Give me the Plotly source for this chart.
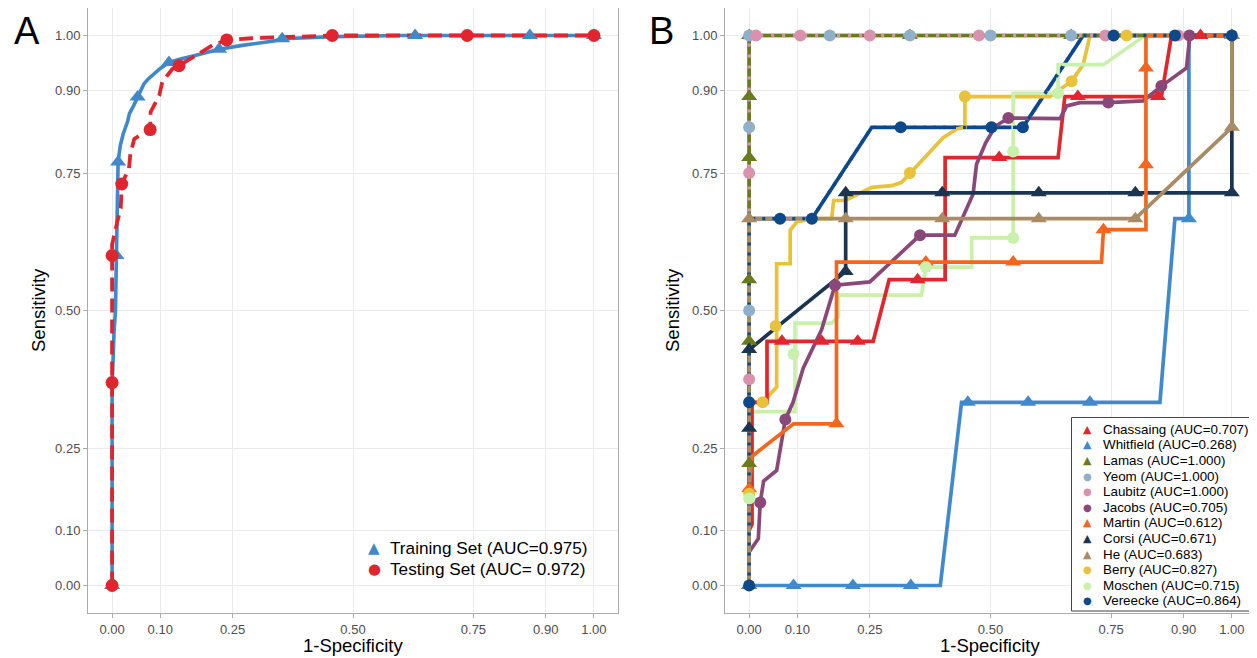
import plotly.graph_objects as go

# ---------------- data ----------------
TICK_VALS = [0.0, 0.10, 0.25, 0.50, 0.75, 0.90, 1.00]
TICK_TEXT = ["0.00", "0.10", "0.25", "0.50", "0.75", "0.90", "1.00"]

# Panel A
train_x = [0, 0, 0.004, 0.007, 0.009, 0.010, 0.0125, 0.017, 0.023, 0.032, 0.036, 0.045, 0.053, 0.060,
           0.066, 0.075, 0.090, 0.100, 0.118, 0.140, 0.170, 0.200, 0.222, 0.270, 0.336, 0.353, 0.460, 0.600, 1.0]
train_y = [0, 0.36, 0.46, 0.50, 0.60, 0.70, 0.77, 0.80, 0.821, 0.843, 0.858, 0.873, 0.888, 0.900,
           0.912, 0.921, 0.933, 0.940, 0.951, 0.957, 0.963, 0.970, 0.975, 0.982, 0.990, 0.994, 0.998, 1.0, 1.0]
train_mx = [0, 0.009, 0.0125, 0.053, 0.118, 0.222, 0.353, 0.629, 0.867, 1.0]
train_my = [0, 0.60, 0.77, 0.888, 0.951, 0.975, 0.994, 1.0, 1.0, 1.0]

test_x = [0, 0, 0, 0, 0.011, 0.018, 0.020, 0.035, 0.038, 0.046, 0.063, 0.079, 0.080, 0.098, 0.104,
          0.125, 0.139, 0.173, 0.208, 0.238, 0.290, 0.457, 1.0]
test_y = [0, 0.369, 0.600, 0.620, 0.662, 0.686, 0.730, 0.758, 0.785, 0.812, 0.821, 0.829, 0.861, 0.891, 0.915,
          0.939, 0.945, 0.964, 0.982, 0.992, 0.995, 1.0, 1.0]
test_mx = [0, 0, 0, 0.020, 0.079, 0.139, 0.238, 0.457, 0.737, 1.0]
test_my = [0, 0.369, 0.600, 0.730, 0.829, 0.945, 0.992, 1.0, 1.0, 1.0]

train_label = "Training Set (AUC=0.975)"
test_label = "Testing Set (AUC= 0.972)"

# Panel B
chassaing_x = [0, 0, 0.006, 0.006, 0.037, 0.037, 0.257, 0.290, 0.406, 0.406, 0.640, 0.654, 0.854, 0.875, 1.0]
chassaing_y = [0, 0.100, 0.111, 0.333, 0.333, 0.444, 0.444, 0.556, 0.556, 0.778, 0.778, 0.889, 0.889, 1.0, 1.0]
chassaing_mx = [0.068, 0.150, 0.225, 0.349, 0.518, 0.681, 0.847, 0.935]
chassaing_my = [0.444, 0.444, 0.444, 0.556, 0.778, 0.889, 0.889, 1.0]

whitfield_x = [0, 0.396, 0.440, 0.851, 0.882, 0.911, 0.911, 1.0]
whitfield_y = [0, 0, 0.333, 0.333, 0.667, 0.667, 1.0, 1.0]
whitfield_mx = [0, 0.092, 0.215, 0.335, 0.453, 0.578, 0.706, 0.911, 1.0]
whitfield_my = [0, 0, 0, 0, 0.333, 0.333, 0.333, 0.667, 1.0]

lamas_x = [0, 0, 1.0]
lamas_y = [0, 1.0, 1.0]
lamas_mx = [0, 0, 0, 0, 0, 0, 0, 0.333, 0.667, 1.0]
lamas_my = [0, 0.222, 0.444, 0.556, 0.778, 0.889, 1.0, 1.0, 1.0, 1.0]

yeom_x = [0, 0, 1.0]
yeom_y = [0, 1.0, 1.0]
yeom_mx = [0, 0, 0, 0.167, 0.333, 0.500, 0.667]
yeom_my = [0.500, 0.833, 1.0, 1.0, 1.0, 1.0, 1.0]

laubitz_x = [0, 0, 1.0]
laubitz_y = [0, 1.0, 1.0]
laubitz_mx = [0, 0, 0.014, 0.106, 0.250, 0.476, 0.738, 0.889]
laubitz_my = [0.375, 0.750, 1.0, 1.0, 1.0, 1.0, 1.0, 1.0]

jacobs_x = [0, 0, 0.019, 0.023, 0.030, 0.057, 0.075, 0.091, 0.112, 0.150, 0.178, 0.219, 0.250, 0.354, 0.426,
            0.464, 0.471, 0.490, 0.510, 0.537, 0.644, 0.658, 0.685, 0.744, 0.816, 0.854, 0.906, 0.913, 1.0]
jacobs_y = [0, 0.061, 0.085, 0.151, 0.190, 0.209, 0.302, 0.333, 0.395, 0.465, 0.546, 0.549, 0.552, 0.637, 0.637,
            0.712, 0.766, 0.805, 0.835, 0.850, 0.849, 0.872, 0.878, 0.878, 0.881, 0.908, 0.941, 1.0, 1.0]
jacobs_mx = [0.023, 0.075, 0.178, 0.354, 0.537, 0.744, 0.854, 0.912]
jacobs_my = [0.151, 0.302, 0.546, 0.637, 0.850, 0.878, 0.908, 1.0]

martin_x = [0, 0, 0.006, 0.092, 0.181, 0.181, 0.730, 0.734, 0.822, 0.822, 1.0]
martin_y = [0, 0.176, 0.235, 0.294, 0.294, 0.588, 0.588, 0.647, 0.647, 1.0, 1.0]
martin_mx = [0, 0.181, 0.366, 0.547, 0.734, 0.822, 0.822]
martin_my = [0.176, 0.294, 0.588, 0.588, 0.647, 0.765, 0.941]

corsi_x = [0, 0, 0.200, 0.200, 1.0, 1.0]
corsi_y = [0, 0.429, 0.571, 0.714, 0.714, 1.0]
corsi_mx = [0, 0, 0.200, 0.200, 0.400, 0.600, 0.800, 1.0]
corsi_my = [0.286, 0.429, 0.571, 0.714, 0.714, 0.714, 0.714, 0.714]

he_x = [0, 0, 0.800, 1.0, 1.0]
he_y = [0, 0.667, 0.667, 0.833, 1.0]
he_mx = [0, 0.200, 0.400, 0.600, 0.800, 1.0, 1.0]
he_my = [0.667, 0.667, 0.667, 0.667, 0.667, 0.833, 1.0]

berry_x = [0, 0, 0.028, 0.057, 0.057, 0.085, 0.085, 0.099, 0.130, 0.171, 0.175, 0.199, 0.254, 0.295, 0.316,
           0.333, 0.357, 0.402, 0.430, 0.447, 0.447, 0.623, 0.668, 0.692, 0.706, 1.0]
berry_y = [0, 0.333, 0.333, 0.361, 0.585, 0.585, 0.646, 0.661, 0.667, 0.667, 0.700, 0.700, 0.724, 0.727, 0.733,
           0.750, 0.772, 0.814, 0.830, 0.833, 0.889, 0.889, 0.917, 0.947, 1.0, 1.0]
berry_mx = [0, 0.028, 0.055, 0.333, 0.447, 0.668, 0.782]
berry_my = [0.167, 0.333, 0.472, 0.750, 0.889, 0.917, 1.0]

moschen_x = [0, 0, 0.095, 0.095, 0.171, 0.185, 0.185, 0.357, 0.366, 0.461, 0.461, 0.547, 0.547, 0.640, 0.640,
             0.734, 0.820, 1.0]
moschen_y = [0, 0.316, 0.316, 0.477, 0.477, 0.489, 0.528, 0.528, 0.579, 0.579, 0.632, 0.632, 0.895, 0.895, 0.947,
             0.947, 1.0, 1.0]
moschen_mx = [0, 0.092, 0.366, 0.547, 0.547, 0.640]
moschen_my = [0.158, 0.421, 0.579, 0.632, 0.789, 0.895]

vereecke_x = [0, 0, 0.130, 0.254, 0.567, 0.692, 1.0]
vereecke_y = [0, 0.667, 0.667, 0.833, 0.833, 1.0, 1.0]
vereecke_mx = [0, 0, 0.064, 0.130, 0.314, 0.502, 0.567, 0.755, 0.882, 1.0]
vereecke_my = [0, 0.333, 0.667, 0.667, 0.833, 0.833, 0.833, 1.0, 1.0, 1.0]

studies = ["Chassaing", "Whitfield", "Lamas", "Yeom", "Laubitz", "Jacobs",
           "Martin", "Corsi", "He", "Berry", "Moschen", "Vereecke"]
study_auc = ["0.707", "0.268", "1.000", "1.000", "1.000", "0.705",
             "0.612", "0.671", "0.683", "0.827", "0.715", "0.864"]

# ---------------- styles ----------------
COLORS = {
    "Chassaing": "#E2262D", "Whitfield": "#4189CF", "Lamas": "#6B7A1D", "Yeom": "#8EB0CA",
    "Laubitz": "#D991AD", "Jacobs": "#8A4878", "Martin": "#F4661B", "Corsi": "#1B3550",
    "He": "#A88C66", "Berry": "#E8C23A", "Moschen": "#C9F1AC", "Vereecke": "#0C488A",
}
SYMBOLS = {
    "Chassaing": "triangle-up", "Whitfield": "triangle-up", "Lamas": "triangle-up", "Yeom": "circle",
    "Laubitz": "circle", "Jacobs": "circle", "Martin": "triangle-up", "Corsi": "triangle-up",
    "He": "triangle-up", "Berry": "circle", "Moschen": "circle", "Vereecke": "circle",
}
SERIES = {
    "Chassaing": (chassaing_x, chassaing_y, chassaing_mx, chassaing_my),
    "Whitfield": (whitfield_x, whitfield_y, whitfield_mx, whitfield_my),
    "Lamas": (lamas_x, lamas_y, lamas_mx, lamas_my),
    "Yeom": (yeom_x, yeom_y, yeom_mx, yeom_my),
    "Laubitz": (laubitz_x, laubitz_y, laubitz_mx, laubitz_my),
    "Jacobs": (jacobs_x, jacobs_y, jacobs_mx, jacobs_my),
    "Martin": (martin_x, martin_y, martin_mx, martin_my),
    "Corsi": (corsi_x, corsi_y, corsi_mx, corsi_my),
    "He": (he_x, he_y, he_mx, he_my),
    "Berry": (berry_x, berry_y, berry_mx, berry_my),
    "Moschen": (moschen_x, moschen_y, moschen_mx, moschen_my),
    "Vereecke": (vereecke_x, vereecke_y, vereecke_mx, vereecke_my),
}

BLUE_A = "#3F88C9"
RED_A = "#E0252F"
FONT = "Liberation Sans, Arial, Helvetica, sans-serif"
GLYPH_FONT = "DejaVu Sans, sans-serif"

# the page places the figure 8px from the top-left corner of the window
OFF = 8
W, H = 1257 - OFF, 658 - OFF
ML, MR, MT, MB = 80, 1, 0, 37
PW = W - ML - MR
PH = H - MT - MB


def pxx(px):
    """reference pixel x -> paper x"""
    return (px - OFF - ML) / PW


def pxy(py):
    """reference pixel y -> paper y"""
    return (H - MB - (py - OFF)) / PH


def clamp(v):
    return max(0.0, min(1.0, v))


fig = go.Figure()

# ---- Panel A ----
fig.add_trace(go.Scatter(x=train_x, y=train_y, mode="lines", line=dict(color=BLUE_A, width=3.6),
                         xaxis="x", yaxis="y", showlegend=False, hoverinfo="skip"))
fig.add_trace(go.Scatter(x=test_x, y=test_y, mode="lines",
                         line=dict(color=RED_A, width=3.8, dash="14px,7px"),
                         xaxis="x", yaxis="y", showlegend=False, hoverinfo="skip"))
fig.add_trace(go.Scatter(x=train_mx, y=train_my, mode="markers", name=train_label,
                         marker=dict(symbol="triangle-up", size=14, color=BLUE_A),
                         xaxis="x", yaxis="y", showlegend=False))
fig.add_trace(go.Scatter(x=test_mx, y=test_my, mode="markers", name=test_label,
                         marker=dict(symbol="circle", size=13, color=RED_A),
                         xaxis="x", yaxis="y", showlegend=False))

# ---- Panel B: lines (solid layer, then dotted overlays) ----
line_order = ["Vereecke", "Berry", "Moschen", "Yeom", "Lamas", "Laubitz", "Chassaing",
              "Whitfield", "Jacobs", "Corsi", "Martin", "He"]
dotted = {"Laubitz": "3px,8px"}
for s in line_order:
    x, y, _, _ = SERIES[s]
    fig.add_trace(go.Scatter(x=x, y=y, mode="lines",
                             line=dict(color=COLORS[s], width=3.7, dash=dotted.get(s, "solid")),
                             xaxis="x2", yaxis="y2", showlegend=False, hoverinfo="skip"))
# Vereecke dotted overlay on top of shared segments
fig.add_trace(go.Scatter(x=vereecke_x, y=vereecke_y, mode="lines",
                         line=dict(color=COLORS["Vereecke"], width=3.4, dash="3px,7px"),
                         xaxis="x2", yaxis="y2", showlegend=False, hoverinfo="skip"))

# ---- Panel B: markers ----
for s in studies:
    _, _, mx, my = SERIES[s]
    tri = SYMBOLS[s] == "triangle-up"
    fig.add_trace(go.Scatter(x=mx, y=my, mode="markers", name=s,
                             marker=dict(symbol=SYMBOLS[s], size=14 if tri else 12, color=COLORS[s]),
                             xaxis="x2", yaxis="y2", showlegend=False))

# ---------------- axes ----------------
axis_common = dict(
    range=[-0.05, 1.05], tickmode="array", tickvals=TICK_VALS, ticktext=TICK_TEXT,
    showgrid=True, gridcolor="#EBEBEB", gridwidth=1, zeroline=False,
    showline=True, linecolor="#ABABAB", linewidth=1, mirror=True,
    ticks="outside", ticklen=4, tickcolor="#ABABAB", tickwidth=1,
    tickfont=dict(family=FONT, size=13, color="#4D4D4D"), fixedrange=True,
)
dA = [clamp(pxx(88)), clamp(pxx(618))]
dB = [clamp(pxx(725)), 1.0]
dY = [clamp(pxy(613)), clamp(pxy(7))]
fig.update_layout(
    xaxis=dict(domain=dA, anchor="y", **axis_common),
    yaxis=dict(domain=dY, anchor="x", **axis_common),
    xaxis2=dict(domain=dB, anchor="y2", **axis_common),
    yaxis2=dict(domain=dY, anchor="x2", **axis_common),
)

# ---------------- annotations (titles, labels, legends) ----------------
ann = []
ann.append(dict(text="A", x=pxx(27), y=pxy(8), yanchor="top", font=dict(family=FONT, size=38, color="black")))
ann.append(dict(text="B", x=pxx(661), y=pxy(8), yanchor="top", font=dict(family=FONT, size=38, color="black")))
for cx in (38, 672):
    ann.append(dict(text="Sensitivity", x=pxx(cx), y=pxy(310), textangle=-90,
                    font=dict(family=FONT, size=18.5, color="black")))
for cx in (353, 990):
    ann.append(dict(text="1-Specificity", x=pxx(cx), y=pxy(645),
                    font=dict(family=FONT, size=18.5, color="black")))

# Legend A
for (lbl, sym, col, py, fs) in [(train_label, "▲", BLUE_A, 548, 15), (test_label, "●", RED_A, 569, 15)]:
    ann.append(dict(text=sym, x=pxx(374), y=pxy(py), font=dict(family=GLYPH_FONT, size=fs, color=col)))
    ann.append(dict(text=lbl, x=pxx(388), y=pxy(py), xanchor="left",
                    font=dict(family=FONT, size=17.2, color="black")))

# Legend B
shapes = [dict(type="rect", xref="paper", yref="paper", x0=pxx(1071.5), x1=pxx(1250),
               y0=pxy(611), y1=pxy(417.5), line=dict(color="#444444", width=1), fillcolor="white", layer="above")]
for i, (s, auc) in enumerate(zip(studies, study_auc)):
    py = 429.3 + i * 15.6
    tri = SYMBOLS[s] == "triangle-up"
    ann.append(dict(text="▲" if tri else "●", x=pxx(1087), y=pxy(py),
                    font=dict(family=GLYPH_FONT, size=11 if tri else 10, color=COLORS[s])))
    ann.append(dict(text=f"{s} (AUC={auc})", x=pxx(1101), y=pxy(py), xanchor="left",
                    font=dict(family=FONT, size=13.4, color="black")))

for a in ann:
    a.setdefault("xanchor", "center")
    a.setdefault("yanchor", "middle")
    a.update(xref="paper", yref="paper", showarrow=False)

fig.update_layout(
    width=W, height=H, margin=dict(l=ML, r=MR, t=MT, b=MB, autoexpand=False),
    paper_bgcolor="white", plot_bgcolor="white", showlegend=False,
    annotations=ann, shapes=shapes, font=dict(family=FONT),
)

fig.write_html("out.html")
